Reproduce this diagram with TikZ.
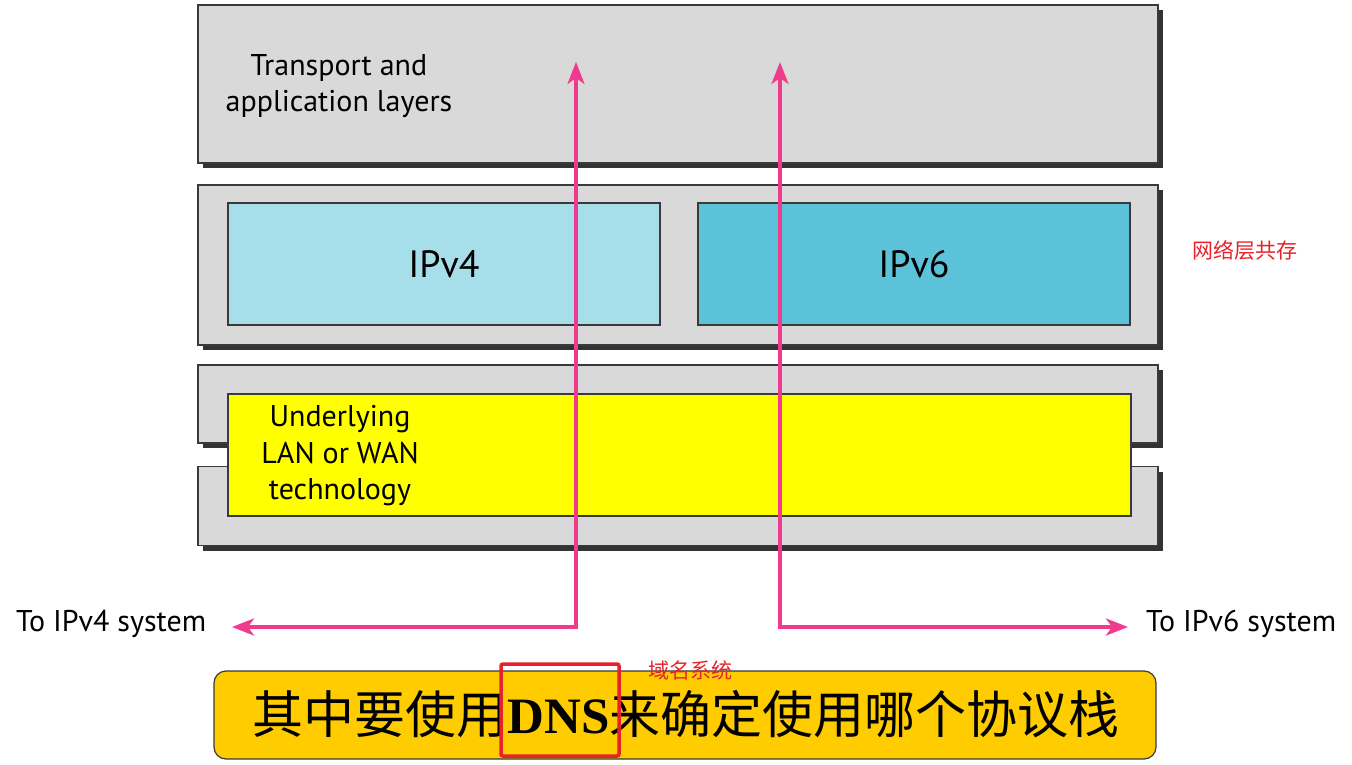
\documentclass[tikz,border=0pt]{standalone}
\usepackage{fontspec}
\setmainfont{PT Sans}
\newfontfamily\cjk{Noto Sans CJK SC}
\newfontfamily\tnr{Liberation Serif}
\usetikzlibrary{shadows,arrows.meta}
\definecolor{boxgray}{HTML}{D9D9D9}
\definecolor{lblue}{HTML}{A6DEEA}
\definecolor{dblue}{HTML}{5BC2DA}
\definecolor{ylw}{HTML}{FFFF00}
\definecolor{gold}{HTML}{FFCC00}
\definecolor{pinkc}{HTML}{F03A8E}
\definecolor{redc}{HTML}{E8222A}
\definecolor{edgec}{HTML}{3A3A3A}
\tikzset{
  layerbox/.style={draw=edgec, line width=1.2pt, fill=boxgray, minimum width=960pt, inner sep=0pt,
     general shadow={fill=black!80, shadow xshift=5pt, shadow yshift=-5pt}},
  innerbox/.style={draw=edgec, line width=1.2pt, inner sep=0pt},
  flow/.style={draw=pinkc, line width=3.5pt, {Stealth[length=22pt,width=17pt,inset=6pt]}-{Stealth[length=22pt,width=17pt,inset=6pt]}},
  lbl/.style={font=\fontsize{30}{36.5}\selectfont, align=center, inner sep=0pt},
  redlbl/.style={text=redc, font=\cjk\fontsize{21}{24}\selectfont, inner sep=0pt}
}
\begin{document}
\begin{tikzpicture}[x=1pt,y=-1pt]
\useasboundingbox (0,0) rectangle (1352,765);
% layer boxes
\node[layerbox, minimum height=158pt] (top) at (678,84) {};
\node[layerbox, minimum height=160pt] (mid) at (678,265) {};
\node[layerbox, minimum height=78pt] (lowa) at (678,404) {};
\node[layerbox, minimum height=79pt] (lowb) at (678,506) {};
% inner boxes
\node[innerbox, fill=lblue, minimum width=432pt, minimum height=122pt] (ipv4) at (444,264) {};
\node[innerbox, fill=dblue, minimum width=432pt, minimum height=122pt] (ipv6) at (914,264) {};
\node[innerbox, fill=ylw, minimum width=903pt, minimum height=122pt] (phy) at (679.5,455) {};
% texts
\node[lbl] (tl) at (339,86) {Transport and\\application layers};
\node[lbl, font=\fontsize{38}{40}\selectfont] (t4) at (444,264) {IPv4};
\node[lbl, font=\fontsize{38}{40}\selectfont] (t6) at (914,264) {IPv6};
\node[lbl] (tu) at (340,456) {Underlying\\LAN or WAN\\technology};
\node[lbl, anchor=west] (to4) at (16,624) {To IPv4 system};
\node[lbl, anchor=west] (to6) at (1146,624) {To IPv6 system};
% arrows
\coordinate (a4top) at (576,62);
\coordinate (a4end) at (232,627);
\coordinate (a6top) at (780,62);
\coordinate (a6end) at (1128,627);
\draw[flow] (a4top) |- (a4end);
\draw[flow] (a6top) |- (a6end);
% bottom banner
\node[draw=edgec, line width=1.2pt, fill=gold, rounded corners=12pt, minimum width=942pt, minimum height=88pt] (banner) at (685,715) {};
\node[inner sep=0pt, font=\fontsize{51}{56}\selectfont] (btext) at (686,714) {{\cjk 其中要使用}{\tnr\bfseries DNS}{\cjk 来确定使用哪个协议栈}};
\node[draw=redc, line width=3.5pt, rounded corners=2pt, minimum width=118pt, minimum height=92pt, inner sep=0pt] (dnsbox) at (560,710) {};
\node[redlbl] (dnsnote) at (690,670) {域名系统};
\node[redlbl] (netnote) at (1245,250) {网络层共存};
\end{tikzpicture}
\end{document}
